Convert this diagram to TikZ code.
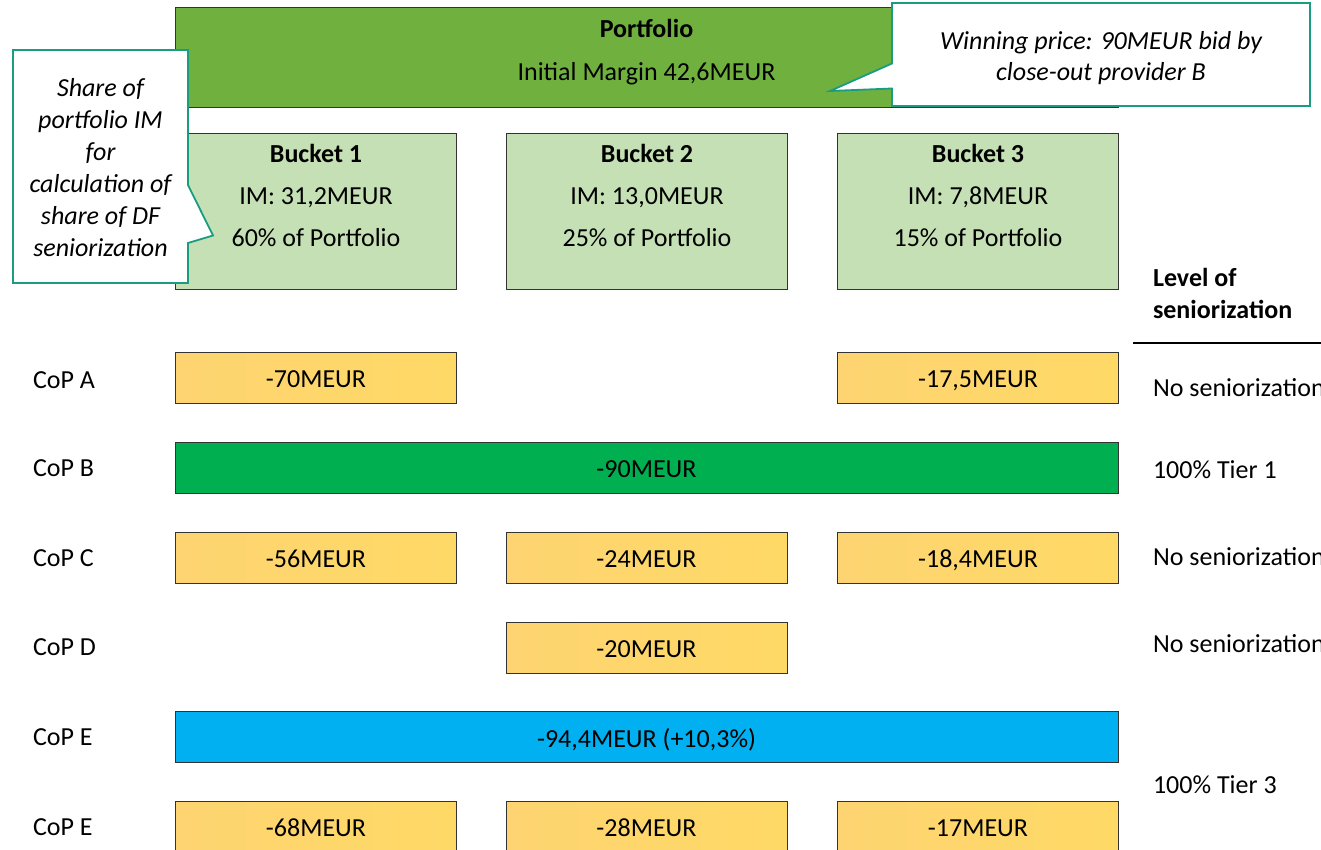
\documentclass[tikz,border=0pt]{standalone}
\usepackage{fontspec}
\setmainfont{Carlito}
\definecolor{pgreen}{HTML}{70B03F}
\definecolor{bgreen}{HTML}{C5E0B4}
\definecolor{orL}{HTML}{FDD471}
\definecolor{orR}{HTML}{FFD966}
\definecolor{cgreen}{HTML}{00AF50}
\definecolor{cblue}{HTML}{00B0F0}
\definecolor{teal}{HTML}{1A9C80}
\definecolor{edge}{HTML}{333333}
\begin{document}
\begin{tikzpicture}[x=1pt,y=-1pt,
  every node/.style={font=\fontsize{26}{31}\selectfont, inner sep=0pt, outer sep=0pt},
  box/.style={draw=edge, line width=1pt, anchor=north west, text height=20pt, text depth=0pt},
  bucketbox/.style={box, fill=bgreen, minimum width=281pt, minimum height=155pt},
  orbox/.style={box, left color=orL, right color=orR, minimum width=281pt, minimum height=51pt},
  widebox/.style={box, minimum width=943pt, minimum height=51pt},
  txt/.style={anchor=base},
  ltxt/.style={anchor=base west},
  btxt/.style={anchor=base, font=\fontsize{26}{31}\selectfont\bfseries},
  itxt/.style={anchor=base, font=\fontsize{26}{31}\selectfont\itshape},
  callout/.style={draw=teal, line width=1.8pt, fill=white, line join=miter}
]
\useasboundingbox (0,0) rectangle (1321,850);

% Portfolio
\node[box, fill=pgreen, minimum width=943pt, minimum height=100pt] (port) at (175,8) {};
\node[btxt] (porttitle) at (646.5,37.5) {Portfolio};
\node[txt] (portim) at (646.5,80.5) {Initial Margin 42,6MEUR};

% Right callout
\draw[callout] (892,3) -- (1310,3) -- (1310,106) -- (892,106) -- (892,88.5) -- (830,91) -- (892,63.5) -- cycle;
\node[itxt] (rc1) at (1101,49.5) {Winning price: 90MEUR bid by};
\node[itxt] (rc2) at (1101,80.5) {close-out provider B};

% Buckets
\node[bucketbox] (b1) at (175.5,134) {};
\node[bucketbox] (b2) at (506,134) {};
\node[bucketbox] (b3) at (837.5,134) {};
\node[btxt] (bt1) at (316,163) {Bucket 1};
\node[txt] (bim1) at (316,205) {IM: 31,2MEUR};
\node[txt] (bpc1) at (316,247) {60\% of Portfolio};
\node[btxt] (bt2) at (647,163) {Bucket 2};
\node[txt] (bim2) at (647,205) {IM: 13,0MEUR};
\node[txt] (bpc2) at (647,247) {25\% of Portfolio};
\node[btxt] (bt3) at (978,163) {Bucket 3};
\node[txt] (bim3) at (978,205) {IM: 7,8MEUR};
\node[txt] (bpc3) at (978,247) {15\% of Portfolio};

% Left callout
\draw[callout] (13,50) -- (188,50) -- (188,185) -- (213,235.5) -- (188,243) -- (188,283) -- (13,283) -- cycle;
\node[itxt] (lc1) at (100.5,96.5) {Share of};
\node[itxt] (lc2) at (100.5,128.5) {portfolio IM};
\node[itxt] (lc3) at (100.5,160.5) {for};
\node[itxt] (lc4) at (100.5,192.5) {calculation of};
\node[itxt] (lc5) at (100.5,224.5) {share of DF};
\node[itxt] (lc6) at (100.5,256) {seniorization};

% Level of seniorization header
\node[ltxt, font=\fontsize{26}{31}\selectfont\bfseries] (lv1) at (1153,286) {Level of};
\node[ltxt, font=\fontsize{26}{31}\selectfont\bfseries] (lv2) at (1153,318) {seniorization};
\coordinate (hl1) at (1133,343);
\coordinate (hl2) at (1321,343);
\draw[line width=2pt, black] (hl1) -- (hl2);

% Row labels
\node[ltxt] (cA) at (33,388) {CoP A};
\node[ltxt] (cB) at (33,476.5) {CoP B};
\node[ltxt] (cC) at (33,566.5) {CoP C};
\node[ltxt] (cD) at (33,655) {CoP D};
\node[ltxt] (cE1) at (33,745) {CoP E};
\node[ltxt] (cE2) at (33,835) {CoP E};

% Row A
\node[orbox] (a1) at (175.5,352) {-70MEUR};
\node[orbox] (a3) at (837.5,352) {-17,5MEUR};
% Row B
\node[widebox, fill=cgreen] (bb) at (175,442) {-90MEUR};
% Row C
\node[orbox] (c1) at (175.5,532) {-56MEUR};
\node[orbox] (c2) at (506,532) {-24MEUR};
\node[orbox] (c3) at (837.5,532) {-18,4MEUR};
% Row D
\node[orbox] (d2) at (506,622) {-20MEUR};
% Row E
\node[widebox, fill=cblue] (e) at (175,711.5) {-94,4MEUR (+10,3\%)};
\node[orbox] (f1) at (175.5,801) {-68MEUR};
\node[orbox] (f2) at (506,801) {-28MEUR};
\node[orbox] (f3) at (837.5,801) {-17MEUR};

% Right column
\node[ltxt] (rA) at (1153,396) {No seniorization};
\node[ltxt] (rB) at (1153,478) {100\% Tier 1};
\node[ltxt] (rC) at (1153,565) {No seniorization};
\node[ltxt] (rD) at (1153,652) {No seniorization};
\node[ltxt] (rE) at (1153,793) {100\% Tier 3};
\end{tikzpicture}
\end{document}
